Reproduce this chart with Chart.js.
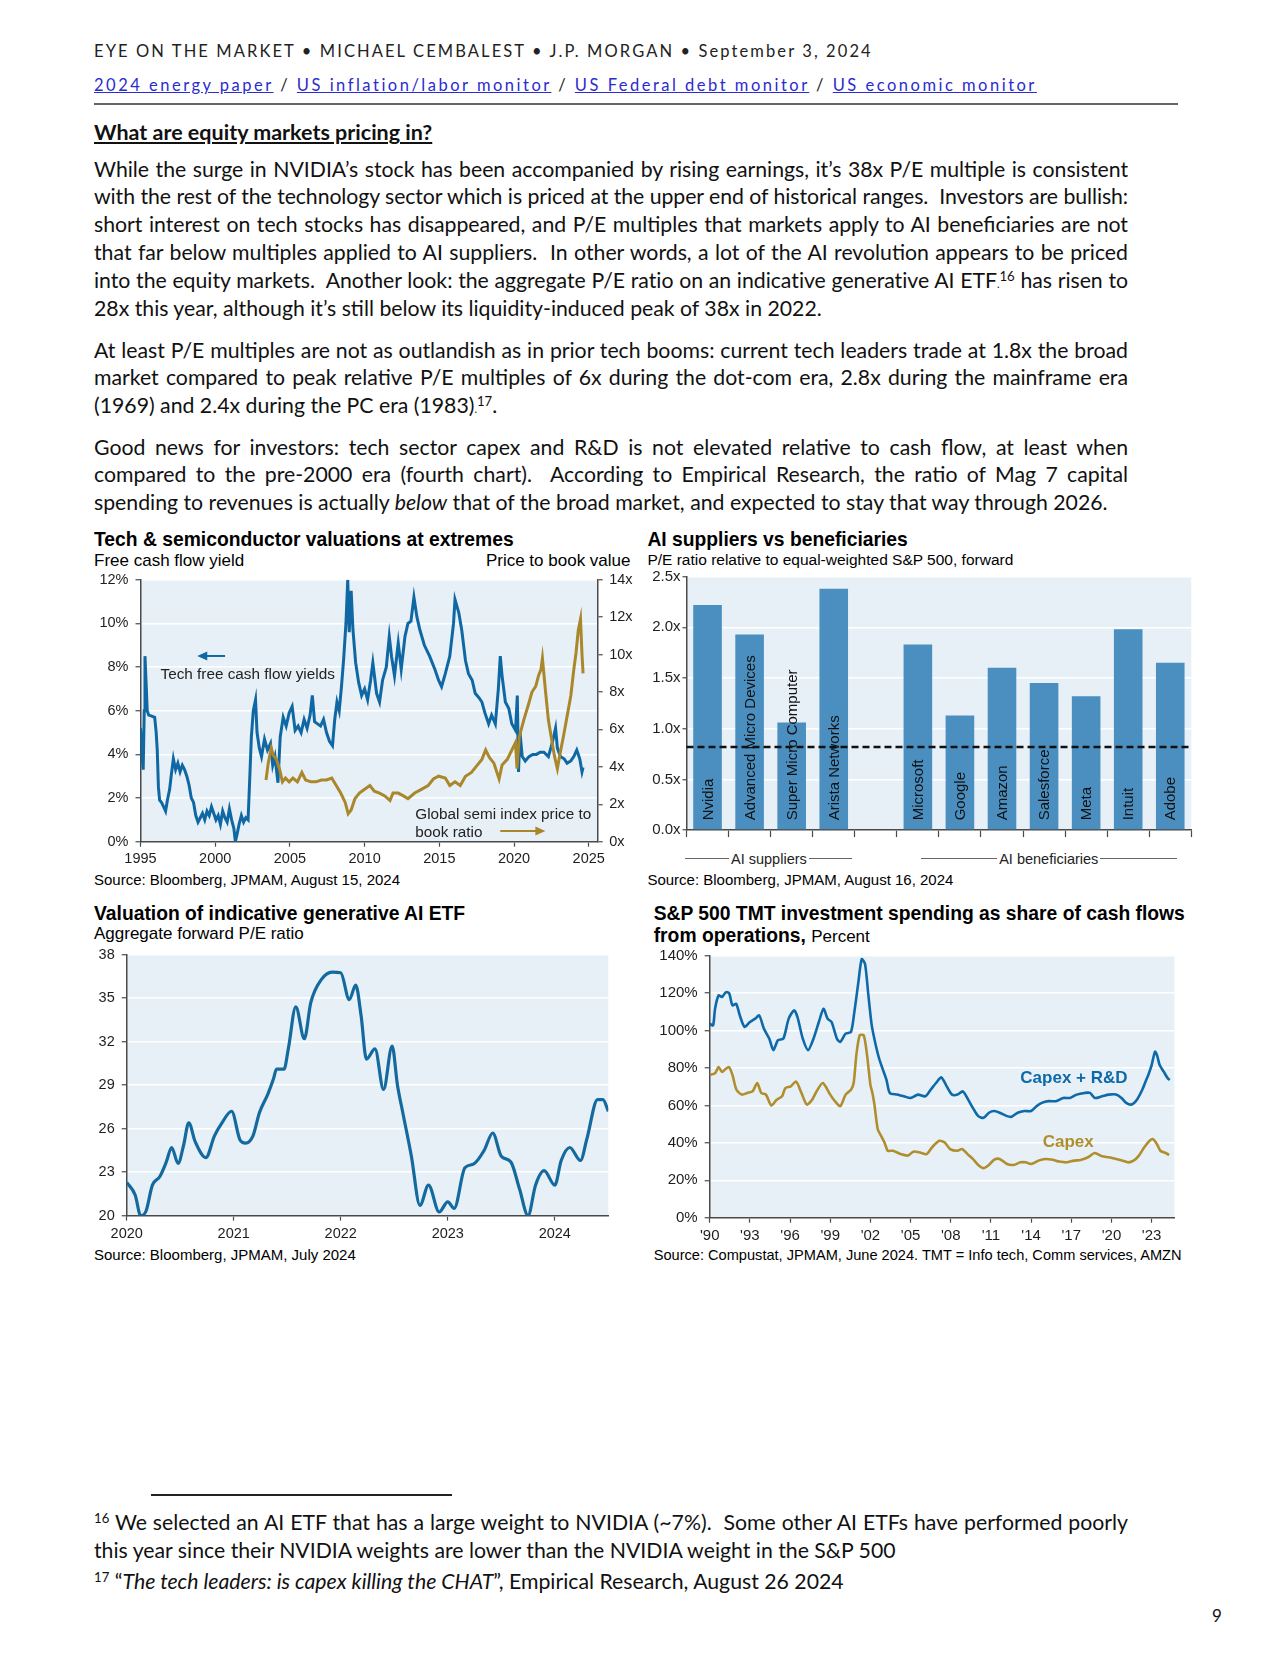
<!DOCTYPE html>
<html><head><meta charset="utf-8">
<script src="https://cdn.jsdelivr.net/npm/chart.js@4.4.1/dist/chart.umd.min.js"></script>
<style>
html,body{margin:0;padding:0;background:#fff;}
#page{position:relative;width:1280px;height:1656px;overflow:hidden;font-family:Lato,'Open Sans',sans-serif;color:#111;}
.abs{position:absolute;white-space:nowrap;}
.ln{position:absolute;left:94px;width:1034px;font-size:21.25px;line-height:28px;height:28px;white-space:nowrap;}
.j{white-space:normal;text-align:justify;text-align-last:justify;overflow:hidden;}
sup{font-size:0.62em;line-height:0;vertical-align:0.5em;}
.ct{font-family:'Liberation Sans',Arial,sans-serif;color:#000;line-height:22px;height:22px;}
.tt{font-weight:bold;font-size:19.3px;}
.st{font-size:17px;}
.src{font-size:15px;}
canvas{position:absolute;}
.grp{position:absolute;display:flex;align-items:center;font-family:'Liberation Sans',Arial,sans-serif;font-size:14.5px;color:#222;height:20px;}
.grp i{flex:1;height:1px;background:#666;display:block;}
.grp span{padding:0 2px;}
a{color:#2b2bd0;}
</style></head>
<body><div id="page">

<div class="abs" style="left:94px;top:40px;font-size:16.5px;letter-spacing:2.1px;line-height:22px;color:#222;">EYE ON THE MARKET • MICHAEL CEMBALEST • J.P. MORGAN • September 3, 2024</div>
<div class="abs" style="left:94px;top:74px;font-size:16.5px;letter-spacing:2.5px;line-height:22px;color:#222;"><a href="#">2024 energy paper</a> / <a href="#">US inflation/labor monitor</a> / <a href="#">US Federal debt monitor</a> / <a href="#">US economic monitor</a></div>
<div class="abs" style="left:94px;top:103px;width:1084px;height:2px;background:#666;"></div>
<div class="abs" style="left:94px;top:119px;font-size:21.5px;font-weight:bold;text-decoration:underline;line-height:26px;">What are equity markets pricing in?</div>

<div class="ln j" style="top:155px">While the surge in NVIDIA’s stock has been accompanied by rising earnings, it’s 38x P/E multiple is consistent</div>
<div class="ln j" style="top:182.4px">with the rest of the technology sector which is priced at the upper end of historical ranges.&nbsp; Investors are bullish:</div>
<div class="ln j" style="top:209.9px">short interest on tech stocks has disappeared, and P/E multiples that markets apply to AI beneficiaries are not</div>
<div class="ln j" style="top:238.4px">that far below multiples applied to AI suppliers.&nbsp; In other words, a lot of the AI revolution appears to be priced</div>
<div class="ln j" style="top:265.9px">into the equity markets.&nbsp; Another look: the aggregate P/E ratio on an indicative generative AI ETF<small style="font-size:0.5em">.</small><sup>16</sup> has risen to</div>
<div class="ln" style="top:294.4px">28x this year, although it’s still below its liquidity-induced peak of 38x in 2022.</div>

<div class="ln j" style="top:335.6px">At least P/E multiples are not as outlandish as in prior tech booms: current tech leaders trade at 1.8x the broad</div>
<div class="ln j" style="top:363px">market compared to peak relative P/E multiples of 6x during the dot-com era, 2.8x during the mainframe era</div>
<div class="ln" style="top:390.5px">(1969) and 2.4x during the PC era (1983)<small style="font-size:0.5em">.</small><sup>17</sup>.</div>

<div class="ln j" style="top:432.7px">Good news for investors: tech sector capex and R&amp;D is not elevated relative to cash flow, at least when</div>
<div class="ln j" style="top:460.2px">compared to the pre-2000 era (fourth chart).&nbsp; According to Empirical Research, the ratio of Mag 7 capital</div>
<div class="ln" style="top:487.6px">spending to revenues is actually <i>below</i> that of the broad market, and expected to stay that way through 2026.</div>

<!-- chart 1 texts -->
<div class="abs ct tt" style="left:94px;top:529px;">Tech &amp; semiconductor valuations at extremes</div>
<div class="abs ct st" style="left:94px;top:550px;">Free cash flow yield</div>
<div class="abs ct st" style="right:649.5px;top:550px;">Price to book value</div>
<div class="abs ct src" style="left:94px;top:869px;">Source: Bloomberg, JPMAM, August 15, 2024</div>

<!-- chart 2 texts -->
<div class="abs ct tt" style="left:647.4px;top:529px;">AI suppliers vs beneficiaries</div>
<div class="abs ct" style="left:647.4px;top:549px;font-size:15.5px;">P/E ratio relative to equal-weighted S&amp;P 500, forward</div>
<div class="grp" style="left:685.4px;width:167px;top:848.6px;"><i></i><span>AI suppliers</span><i></i></div>
<div class="grp" style="left:921px;width:255.5px;top:848.6px;"><i></i><span>AI beneficiaries</span><i></i></div>
<div class="abs ct src" style="left:647.4px;top:869px;">Source: Bloomberg, JPMAM, August 16, 2024</div>

<!-- chart 3 texts -->
<div class="abs ct tt" style="left:94px;top:902.5px;">Valuation of indicative generative AI ETF</div>
<div class="abs ct st" style="left:94px;top:922.6px;">Aggregate forward P/E ratio</div>
<div class="abs ct src" style="left:94px;top:1243.7px;">Source: Bloomberg, JPMAM, July 2024</div>

<!-- chart 4 texts -->
<div class="abs ct tt" style="left:653.7px;top:902.5px;">S&amp;P 500 TMT investment spending as share of cash flows</div>
<div class="abs ct tt" style="left:653.7px;top:924.7px;">from operations, <span style="font-weight:normal;font-size:17px;">Percent</span></div>
<div class="abs ct" style="left:653.7px;top:1243.7px;font-size:14.6px;">Source: Compustat, JPMAM, June 2024. TMT = Info tech, Comm services, AMZN</div>

<!-- footnotes -->
<div class="abs" style="left:151px;top:1494px;width:301px;height:1.5px;background:#222;"></div>
<div class="ln j" style="top:1508px"><sup>16</sup> We selected an AI ETF that has a large weight to NVIDIA (~7%).&nbsp; Some other AI ETFs have performed poorly</div>
<div class="ln" style="top:1536px">this year since their NVIDIA weights are lower than the NVIDIA weight in the S&amp;P 500</div>
<div class="ln" style="top:1567px"><sup>17</sup> “<i>The tech leaders: is capex killing the CHAT</i>”, Empirical Research, August 26 2024</div>
<div class="abs" style="left:1212px;top:1604px;font-size:17px;line-height:24px;">9</div>

</div>
<script>
// ---------------- DATA ----------------
// Chart 1: Tech free cash flow yield (%), [decimal year, value]
const fcfYield = [
[1995.00,5.2],[1995.10,4.0],[1995.18,3.3],[1995.25,6.0],[1995.30,8.5],[1995.38,7.2],[1995.45,6.0],[1995.55,5.8],[1995.75,5.75],[1995.95,5.7],
[1996.05,5.0],[1996.12,4.2],[1996.20,2.5],[1996.28,1.9],[1996.40,1.8],[1996.55,1.6],[1996.68,1.4],[1996.80,1.9],[1996.95,2.4],
[1997.05,3.0],[1997.20,3.8],[1997.35,3.3],[1997.50,3.6],[1997.65,3.2],[1997.80,3.5],[1997.95,3.3],
[1998.10,3.0],[1998.25,2.6],[1998.40,2.0],[1998.55,1.8],[1998.70,1.2],[1998.85,0.9],
[1999.00,1.1],[1999.15,1.3],[1999.30,1.0],[1999.45,1.4],[1999.60,1.2],[1999.75,1.6],[1999.90,1.3],
[2000.05,1.0],[2000.20,1.2],[2000.35,0.8],[2000.50,1.4],[2000.65,1.1],[2000.80,0.9],[2000.95,1.5],
[2001.10,1.0],[2001.25,0.6],[2001.35,0.0],[2001.45,0.3],[2001.60,0.8],[2001.75,1.2],[2001.90,0.9],
[2002.05,1.1],[2002.20,1.0],[2002.30,2.7],[2002.42,4.8],[2002.55,6.0],[2002.70,6.5],[2002.80,5.0],[2002.95,4.3],
[2003.10,3.9],[2003.30,4.7],[2003.50,4.2],[2003.70,4.5],[2003.85,3.5],[2004.00,3.9],[2004.20,2.7],[2004.35,4.8],[2004.55,5.7],[2004.75,5.3],[2004.95,5.9],
[2005.15,6.2],[2005.35,5.1],[2005.55,5.3],[2005.75,5.0],[2005.95,5.6],[2006.15,5.2],[2006.35,5.8],[2006.50,6.7],[2006.65,5.5],[2006.85,5.4],
[2007.05,5.3],[2007.25,5.6],[2007.45,5.0],[2007.65,4.6],[2007.85,4.4],[2008.00,5.6],[2008.15,6.4],[2008.30,6.0],[2008.45,7.1],[2008.60,8.4],[2008.75,10.0],[2008.87,12.0],[2008.97,9.6],
[2009.10,11.5],[2009.22,9.7],[2009.40,8.2],[2009.60,7.3],[2009.80,6.7],
[2010.00,7.0],[2010.20,6.5],[2010.40,7.4],[2010.55,8.2],[2010.80,6.8],[2011.00,6.4],[2011.20,7.4],[2011.45,8.0],[2011.65,9.4],[2011.80,8.5],
[2012.00,7.6],[2012.25,9.1],[2012.45,7.9],[2012.70,9.4],[2012.90,10.0],[2013.10,10.1],[2013.30,11.2],[2013.50,10.3],[2013.70,9.7],
[2014.00,9.0],[2014.35,8.5],[2014.70,7.9],[2014.95,7.4],[2015.15,7.1],[2015.40,7.7],[2015.70,8.5],[2015.95,10.0],[2016.05,11.1],[2016.30,10.5],[2016.50,9.7],[2016.75,8.3],[2016.95,7.7],
[2017.20,7.4],[2017.40,6.8],[2017.65,6.6],[2017.85,6.4],[2018.05,5.9],[2018.30,5.4],[2018.50,5.8],[2018.75,5.4],[2018.95,7.0],[2019.08,8.5],[2019.20,7.6],[2019.42,6.4],[2019.65,6.1],[2019.85,5.4],
[2020.10,5.1],[2020.22,6.7],[2020.30,3.2],[2020.40,5.0],[2020.55,3.9],[2020.75,3.7],[2021.00,3.9],[2021.25,4.0],[2021.50,4.0],[2021.75,4.1],
[2022.00,4.1],[2022.30,3.9],[2022.55,4.5],[2022.78,5.2],[2022.90,4.3],[2023.10,3.9],[2023.35,3.8],[2023.55,3.6],[2023.80,3.7],
[2024.00,3.9],[2024.20,4.2],[2024.40,3.8],[2024.55,3.2],[2024.62,3.4]
];
// Chart 1: Global semi index price to book ratio (x), [decimal year, value]
const semiPB = [
[2003.40,3.3],[2003.55,4.2],[2003.75,5.0],[2003.90,4.6],[2004.10,4.4],[2004.30,3.9],[2004.50,3.2],[2004.70,3.4],[2004.95,3.2],
[2005.20,3.4],[2005.50,3.2],[2005.80,3.7],[2006.05,3.3],[2006.40,3.2],[2006.75,3.2],[2007.10,3.3],[2007.45,3.3],[2007.80,3.4],
[2008.10,3.0],[2008.40,2.6],[2008.70,2.1],[2008.90,1.5],[2009.10,1.7],[2009.35,2.3],[2009.65,2.6],
[2010.00,2.8],[2010.35,3.0],[2010.65,2.7],[2011.00,2.6],[2011.35,2.45],[2011.70,2.2],[2011.90,2.6],
[2012.25,2.6],[2012.60,2.45],[2012.90,2.3],[2013.35,2.6],[2013.80,2.8],[2014.25,3.0],[2014.60,3.35],[2014.95,3.5],
[2015.40,3.4],[2015.70,3.0],[2016.05,3.2],[2016.40,3.0],[2016.75,3.5],[2017.15,3.7],[2017.50,4.05],[2017.85,4.4],
[2018.10,4.9],[2018.35,4.5],[2018.65,4.2],[2019.00,3.35],[2019.20,4.1],[2019.55,4.4],[2019.85,4.9],
[2020.10,5.3],[2020.20,3.9],[2020.35,5.6],[2020.65,6.5],[2020.99,7.4],[2021.20,8.0],[2021.45,8.3],[2021.65,8.9],[2021.80,9.2],[2021.90,9.8],
[2022.10,8.1],[2022.30,6.5],[2022.55,5.3],[2022.70,4.6],[2022.90,3.9],[2023.10,4.8],[2023.30,5.6],[2023.55,6.7],[2023.80,7.8],
[2024.00,9.2],[2024.15,10.1],[2024.30,11.3],[2024.45,11.9],[2024.55,10.0],[2024.62,9.0]
];
const c1YearTicks = [1995, 2000, 2005, 2010, 2015, 2020, 2025];

// Chart 2: AI suppliers vs beneficiaries
const aiCompanies = ['Nvidia','Advanced Micro Devices','Super Micro Computer','Arista Networks','','Microsoft','Google','Amazon','Salesforce','Meta','Intuit','Adobe'];
const aiRelativePE = [2.22, 1.93, 1.06, 2.38, null, 1.83, 1.13, 1.60, 1.45, 1.32, 1.98, 1.65];
const aiReferenceLine = 0.82;

// Chart 3: Aggregate forward P/E of indicative generative AI ETF, [decimal year, value]
const etfPE = [
[2020.00,22.3],[2020.08,21.4],[2020.13,20.0],[2020.18,20.3],[2020.24,22.1],[2020.31,22.7],[2020.37,23.7],[2020.42,24.7],[2020.48,23.6],[2020.53,24.8],
[2020.58,26.4],[2020.64,25.1],[2020.74,24.0],[2020.82,25.5],[2020.89,26.4],[2020.98,27.2],[2021.06,25.2],[2021.11,25.0],[2021.18,25.5],[2021.24,27.1],
[2021.32,28.4],[2021.37,29.4],[2021.40,30.1],[2021.47,30.1],[2021.51,31.5],[2021.58,34.4],[2021.66,32.2],[2021.72,34.7],[2021.82,36.3],[2021.92,36.8],
[2022.00,36.75],[2022.08,34.9],[2022.14,35.9],[2022.19,33.8],[2022.24,30.8],[2022.32,31.5],[2022.40,28.7],[2022.48,31.7],[2022.53,29.0],[2022.58,27.1],
[2022.66,24.1],[2022.74,20.7],[2022.82,22.1],[2022.92,20.25],[2023.00,20.95],[2023.06,20.5],[2023.16,23.3],[2023.24,23.55],[2023.34,24.5],[2023.42,25.7],
[2023.50,24.1],[2023.59,23.7],[2023.67,21.85],[2023.75,20.0],[2023.82,22.1],[2023.90,23.1],[2024.00,22.1],[2024.06,23.8],[2024.14,24.7],[2024.24,23.8],
[2024.30,25.3],[2024.40,28.0],[2024.45,28.0],[2024.50,27.2]
];
const c3YearTicks = [2020, 2021, 2022, 2023, 2024];

// Chart 4: S&P 500 TMT investment spending as share of cash flows from operations (%), [decimal year, value]
const capexRD = [
[1990.00,103.7],[1990.25,102.8],[1990.40,111.7],[1990.66,118.8],[1990.92,118.0],[1991.20,120.5],[1991.45,120.0],[1991.70,113.5],[1991.98,114.3],
[1992.25,108.1],[1992.60,102.0],[1993.00,104.6],[1993.40,106.4],[1993.70,108.1],[1994.05,101.0],[1994.45,95.7],[1994.75,89.6],[1995.10,94.9],
[1995.50,95.7],[1995.90,106.4],[1996.30,110.8],[1996.55,107.3],[1996.95,95.7],[1997.35,89.6],[1997.75,95.7],[1998.15,104.6],[1998.50,111.7],
[1998.80,106.4],[1999.10,104.6],[1999.50,95.7],[1999.75,94.0],[2000.15,98.4],[2000.55,99.3],[2000.80,109.9],[2001.10,125.8],[2001.35,138.2],
[2001.60,135.6],[2001.85,118.8],[2002.10,102.8],[2002.40,92.2],[2002.65,85.1],[2002.90,79.8],[2003.20,73.7],[2003.45,66.7],[2004.00,65.8],
[2004.50,64.9],[2005.00,64.0],[2005.55,65.8],[2006.10,64.9],[2006.50,68.4],[2006.90,72.0],[2007.30,75.0],[2007.70,70.2],[2008.10,65.8],
[2008.50,65.8],[2008.90,67.5],[2009.30,63.1],[2009.65,58.7],[2010.05,54.3],[2010.45,53.4],[2010.85,56.1],[2011.25,57.0],[2011.65,56.1],
[2012.20,54.3],[2012.55,54.0],[2013.00,56.1],[2013.50,57.0],[2014.00,57.0],[2014.40,59.6],[2014.80,61.4],[2015.30,62.3],[2015.85,62.3],
[2016.40,64.0],[2016.90,64.0],[2017.40,65.8],[2018.00,66.7],[2018.40,66.7],[2018.75,64.0],[2019.30,64.9],[2019.80,65.8],[2020.35,65.8],
[2020.75,64.0],[2021.10,61.4],[2021.50,60.5],[2021.90,63.1],[2022.30,68.4],[2022.60,73.7],[2022.75,76.3],[2023.00,81.6],[2023.25,88.7],
[2023.40,86.9],[2023.60,81.6],[2023.90,78.1],[2024.20,74.5],[2024.35,73.6]
];
const capexOnly = [
[1990.00,76.3],[1990.40,77.2],[1990.66,80.5],[1990.92,77.9],[1991.20,79.6],[1991.45,80.5],[1991.70,76.3],[1992.00,68.4],[1992.40,65.8],
[1992.80,66.7],[1993.20,67.5],[1993.55,72.0],[1993.85,66.7],[1994.20,65.8],[1994.60,60.0],[1995.00,63.1],[1995.40,64.9],[1995.65,69.3],
[1996.05,70.2],[1996.45,72.8],[1996.85,66.7],[1997.25,60.5],[1997.65,63.1],[1998.05,68.4],[1998.45,72.0],[1999.00,65.8],[1999.35,62.3],
[1999.75,59.6],[2000.15,65.8],[2000.55,68.4],[2000.75,72.0],[2000.95,86.9],[2001.20,97.5],[2001.50,97.5],[2001.75,86.9],[2002.00,71.0],
[2002.15,66.7],[2002.30,60.5],[2002.55,47.3],[2002.80,43.7],[2003.05,40.2],[2003.30,35.8],[2003.70,35.8],[2004.25,34.0],[2004.80,33.2],
[2005.20,35.3],[2005.70,34.9],[2006.20,34.0],[2006.60,37.6],[2007.15,41.1],[2007.55,40.2],[2007.95,36.7],[2008.50,35.8],[2008.85,36.7],
[2009.25,34.0],[2009.65,31.4],[2010.05,28.2],[2010.45,26.5],[2010.85,28.2],[2011.25,31.0],[2011.65,31.4],[2012.20,28.7],[2012.70,28.2],
[2013.20,29.6],[2013.60,29.6],[2014.00,28.7],[2014.55,30.5],[2015.05,31.4],[2015.60,31.0],[2016.10,30.0],[2016.65,29.6],[2017.20,30.5],
[2017.70,30.9],[2018.25,32.3],[2018.75,34.6],[2019.30,32.8],[2019.80,32.3],[2020.35,31.4],[2020.85,30.5],[2021.25,29.6],[2021.65,30.5],
[2022.05,33.2],[2022.45,37.6],[2022.85,41.1],[2023.10,42.0],[2023.40,39.3],[2023.65,35.8],[2024.05,34.6],[2024.30,33.5]
];
const c4YearTicks = [1990, 1993, 1996, 1999, 2002, 2005, 2008, 2011, 2014, 2017, 2020, 2023];

// ---------------- STYLE / HELPERS ----------------
Chart.defaults.font.family = "'Liberation Sans', Arial, sans-serif";
Chart.defaults.color = '#1e1e1e';
Chart.defaults.animation = false;
Chart.defaults.responsive = false;
Chart.defaults.devicePixelRatio = 1;
Chart.defaults.plugins.legend.display = false;
Chart.defaults.plugins.tooltip.enabled = false;

const AXIS = '#4a4a4a', PLOTBG = '#e7f0f7', BLUE = '#0f68a4', GOLD = '#a9872a', BAR = '#4a8fc0';
const FONT = "'Liberation Sans', Arial, sans-serif";

const plotBg = { id:'plotBg', beforeDraw(c){ const a=c.chartArea, x=c.ctx; x.save(); x.fillStyle=PLOTBG; x.fillRect(a.left,a.top,a.right-a.left,a.bottom-a.top); x.restore(); } };
const fixSize = s => sc => {
  if (sc.isHorizontal()) sc.height = s; else sc.width = s;
  sc.paddingTop = 0; sc.paddingBottom = 0; sc.paddingLeft = 0; sc.paddingRight = 0;
};
const toXY = arr => arr.map(p => ({x:p[0], y:p[1]}));
const setTicks = vals => sc => { sc.ticks = vals.map(v => ({value:v})); };

function notes(items){
  return { id:'notes', afterDatasetsDraw(chart){
    const ctx = chart.ctx;
    items.forEach(it => {
      const xs = chart.scales[it.xAxis||'x'], ys = chart.scales[it.yAxis||'y'];
      ctx.save();
      if (it.text){
        ctx.font = it.font; ctx.fillStyle = it.color; ctx.textAlign = it.align||'left'; ctx.textBaseline = 'middle';
        ctx.fillText(it.text, xs.getPixelForValue(it.x), ys.getPixelForValue(it.y));
      } else {
        const x1 = xs.getPixelForValue(it.x1), x2 = xs.getPixelForValue(it.x2), y = ys.getPixelForValue(it.y);
        const dir = Math.sign(x2-x1);
        ctx.strokeStyle = it.color; ctx.fillStyle = it.color; ctx.lineWidth = 2;
        ctx.beginPath(); ctx.moveTo(x1,y); ctx.lineTo(x2-dir*8,y); ctx.stroke();
        ctx.beginPath(); ctx.moveTo(x2,y); ctx.lineTo(x2-dir*10,y-4.5); ctx.lineTo(x2-dir*10,y+4.5); ctx.closePath(); ctx.fill();
      }
      ctx.restore();
    });
  }};
}

function canvasAt(left, top, w, h){
  const c = document.createElement('canvas');
  c.width = w; c.height = h;
  c.style.left = left+'px'; c.style.top = top+'px'; c.style.width = w+'px'; c.style.height = h+'px';
  document.getElementById('page').appendChild(c);
  return c;
}
const axisGrid = (extra) => Object.assign({color:'#ffffff', lineWidth:1.5, tickColor:AXIS, tickLength:5, tickWidth:1.2}, extra||{});
const border = {display:true, color:AXIS, width:1.5};

// ---------------- CHART 1 ----------------
new Chart(canvasAt(90, 570, 560, 305), {
  type:'line',
  data:{datasets:[
    {label:'Global semi index price to book ratio', data:toXY(semiPB), yAxisID:'yR', borderColor:GOLD, borderWidth:3, pointRadius:0, tension:0, order:1},
    {label:'Tech free cash flow yields', data:toXY(fcfYield), yAxisID:'y', borderColor:BLUE, borderWidth:3, pointRadius:0, tension:0, order:2}
  ]},
  options:{
    layout:{padding:{top:9.8, right:0, bottom:0, left:0}},
    scales:{
      x:{type:'linear', min:1995, max:2025.6, afterBuildTicks:setTicks(c1YearTicks), afterFit:fixSize(33.3),
         ticks:{callback:v=>String(v), font:{size:14.5}, padding:4, maxRotation:0, autoSkip:false},
         grid:{drawOnChartArea:false, color:AXIS, tickLength:5, tickWidth:1.2}, border},
      y:{position:'left', min:0, max:12, afterFit:fixSize(50.5), ticks:{stepSize:2, callback:v=>v+'%', font:{size:14.5}, padding:7}, grid:axisGrid(), border},
      yR:{position:'right', min:0, max:14, afterFit:fixSize(52.3), ticks:{stepSize:2, callback:v=>v+'x', font:{size:14.5}, padding:6.5}, grid:axisGrid({drawOnChartArea:false}), border}
    }
  },
  plugins:[plotBg, notes([
    {text:'Tech free cash flow yields', x:1996.34, y:7.64, color:'#222', font:"15.3px "+FONT},
    {x1:2000.66, x2:1998.8, y:8.51, color:BLUE},
    {text:'Global semi index price to', x:2013.39, y:1.22, color:'#222', font:"15.3px "+FONT},
    {text:'book ratio', x:2013.39, y:0.40, color:'#222', font:"15.3px "+FONT},
    {x1:2019.08, x2:2022.1, y:0.49, color:GOLD}
  ])]
});

// ---------------- CHART 2 ----------------
const barLabels = { id:'barLabels', afterDatasetsDraw(chart){
  const ctx = chart.ctx, meta = chart.getDatasetMeta(0);
  meta.data.forEach((el, i) => {
    if (aiRelativePE[i] == null) return;
    ctx.save(); ctx.translate(el.x, el.base - 9); ctx.rotate(-Math.PI/2);
    ctx.font = "15px "+FONT; ctx.fillStyle = '#111'; ctx.textAlign='left'; ctx.textBaseline='middle';
    ctx.fillText(aiCompanies[i], 0, 1); ctx.restore();
  });
}};
const refLine = { id:'refLine', afterDatasetsDraw(chart){
  const a = chart.chartArea, ctx = chart.ctx, y = chart.scales.y.getPixelForValue(aiReferenceLine);
  ctx.save(); ctx.strokeStyle='#111'; ctx.lineWidth=2.6; ctx.setLineDash([7,4]);
  ctx.beginPath(); ctx.moveTo(a.left, y); ctx.lineTo(a.right, y); ctx.stroke(); ctx.restore();
}};
new Chart(canvasAt(640, 566, 560, 285), {
  type:'bar',
  data:{labels:aiCompanies, datasets:[{data:aiRelativePE, backgroundColor:BAR, barPercentage:0.68, categoryPercentage:1.0}]},
  options:{
    layout:{padding:{top:10.6, right:8.7, bottom:0, left:0}},
    scales:{
      x:{afterFit:fixSize(20.9), ticks:{display:false}, grid:{offset:true, drawOnChartArea:false, color:AXIS, tickLength:7, tickWidth:1.2}, border},
      y:{min:0, max:2.5, afterFit:fixSize(46.5), ticks:{stepSize:0.5, callback:v=>v.toFixed(1)+'x', font:{size:15}, padding:2}, grid:axisGrid({tickLength:4}), border}
    }
  },
  plugins:[plotBg, barLabels, refLine]
});

// ---------------- CHART 3 ----------------
new Chart(canvasAt(88, 945, 530, 300), {
  type:'line',
  data:{datasets:[{label:'Aggregate forward P/E ratio', data:toXY(etfPE), borderColor:'#146a9f', borderWidth:3.2, pointRadius:0, cubicInterpolationMode:'monotone'}]},
  options:{
    layout:{padding:{top:9.7, right:9.7, bottom:0, left:0}},
    scales:{
      x:{type:'linear', min:2020, max:2024.5, afterBuildTicks:setTicks(c3YearTicks), afterFit:fixSize(29.4),
         ticks:{callback:v=>String(v), font:{size:14.5}, padding:5, maxRotation:0, autoSkip:false},
         grid:{drawOnChartArea:false, color:AXIS, tickLength:5, tickWidth:1.2}, border},
      y:{min:20, max:38, afterFit:fixSize(38.7), ticks:{stepSize:3, font:{size:14.5}, padding:7}, grid:axisGrid(), border}
    }
  },
  plugins:[plotBg]
});

// ---------------- CHART 4 ----------------
new Chart(canvasAt(650, 945, 540, 300), {
  type:'line',
  data:{datasets:[
    {label:'Capex', data:toXY(capexOnly), borderColor:'#b08e2e', borderWidth:2.6, pointRadius:0, tension:0.25, order:1},
    {label:'Capex + R&D', data:toXY(capexRD), borderColor:'#0d69a8', borderWidth:2.6, pointRadius:0, tension:0.25, order:2}
  ]},
  options:{
    layout:{padding:{top:10.8, right:15.6, bottom:0, left:0}},
    scales:{
      x:{type:'linear', min:1990, max:2024.7, afterBuildTicks:setTicks(c4YearTicks), afterFit:fixSize(27.3),
         ticks:{callback:v=>"'"+String(v).slice(2), font:{size:15}, padding:4, maxRotation:0, autoSkip:false},
         grid:{drawOnChartArea:false, color:AXIS, tickLength:5, tickWidth:1.2}, border},
      y:{min:0, max:140, afterFit:fixSize(59.7), ticks:{stepSize:20, callback:v=>v+'%', font:{size:15}, padding:7}, grid:axisGrid(), border}
    }
  },
  plugins:[plotBg, notes([
    {text:'Capex + R&D', x:2017.2, y:74.5, color:'#0d69a8', font:"bold 17px "+FONT, align:'center'},
    {text:'Capex', x:2016.77, y:40.1, color:'#b08e2e', font:"bold 17px "+FONT, align:'center'}
  ])]
});

// ---------------- fit justified text lines ----------------
(function(){
  const meas = document.createElement('span');
  meas.style.cssText = 'position:absolute;visibility:hidden;white-space:nowrap;font-family:Lato,sans-serif;font-size:21.25px;left:0;top:0;';
  document.getElementById('page').appendChild(meas);
  document.querySelectorAll('.ln').forEach(el => {
    meas.innerHTML = el.innerHTML; meas.style.letterSpacing = '0px';
    const w = meas.getBoundingClientRect().width, target = 1030;
    if (w > target){
      const n = el.textContent.length;
      el.style.letterSpacing = ((target - w)/n).toFixed(3)+'px';
    }
  });
  meas.remove();
})();
</script>
</body></html>
